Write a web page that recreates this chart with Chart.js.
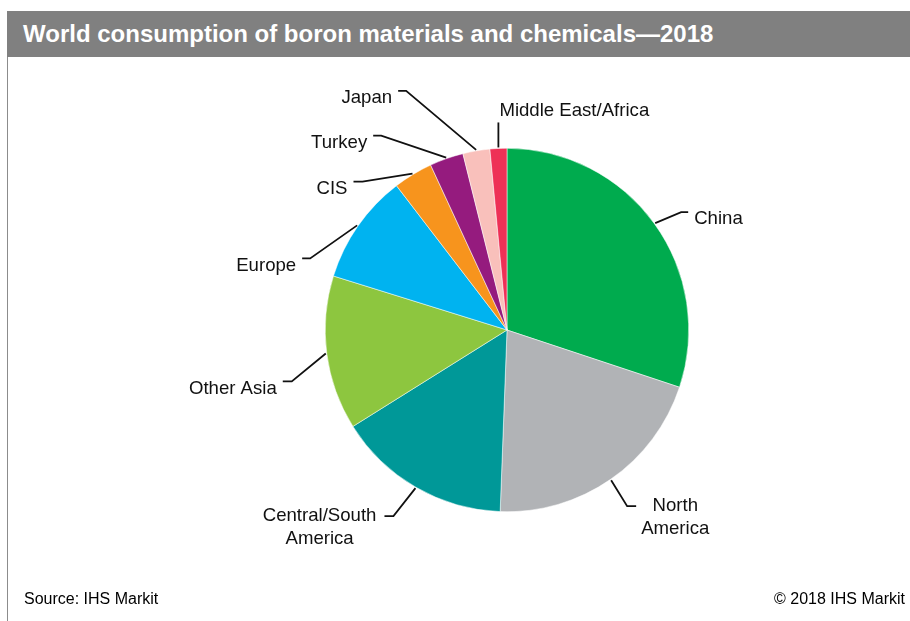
<!DOCTYPE html>
<html>
<head>
<meta charset="utf-8">
<script src="https://cdn.jsdelivr.net/npm/chart.js@4"></script>
<style>
  html, body { margin: 0; padding: 0; background: #fff; }
  #wrap { position: relative; width: 910px; height: 621px; overflow: hidden; font-family: "Liberation Sans", Arial, sans-serif; }
  #titleBar { position: absolute; left: 7px; top: 11px; width: 903px; height: 46px; background: #808080; }
  #titleBar span { position: absolute; left: 16px; top: 9px; color: #fff; font-weight: bold; font-size: 24px; white-space: nowrap; }
  #leftRule { position: absolute; left: 7px; top: 57px; width: 1px; height: 564px; background: #8c8c8c; }
  .foot { position: absolute; top: 590px; font-size: 16px; color: #000; white-space: nowrap; }
  #source { left: 24px; }
  #copy { right: 5px; }
  #pie { position: absolute; left: 0; top: 0; }
</style>
</head>
<body>
<div id="wrap">
  <div id="titleBar"><span>World consumption of boron materials and chemicals—2018</span></div>
  <div id="leftRule"></div>
  <canvas id="pie" width="910" height="621"></canvas>
  <div class="foot" id="source">Source: IHS Markit</div>
  <div class="foot" id="copy">© 2018 IHS Markit</div>
</div>
<script>
// share of world consumption, %
const regions = ['China', 'North America', 'Central/South America', 'Other Asia', 'Europe', 'CIS', 'Turkey', 'Japan', 'Middle East/Africa'];
const shares = [30.1, 20.5, 15.5, 13.7, 9.8, 3.5, 3.0, 2.4, 1.5];
const labelLines = [['China'], ['North', 'America'], ['Central/South', 'America'], ['Other Asia'], ['Europe'], ['CIS'], ['Turkey'], ['Japan'], ['Middle East/Africa']];

const sliceColors = ['#00ab4e', '#b1b3b6', '#009898', '#8dc63f', '#00b3f0', '#f7941d', '#951b7e', '#f9c0bb', '#ee3056'];

// leader line layout: offset to elbow from the slice edge, horizontal tail length
const leaders = [
    { dx: 26, dy: -11, len: 7 },
    { dx: 16, dy: 26, len: 9 },
    { dx: -22, dy: 28, len: 9 },
    { dx: -34, dy: 28, len: 9 },
    { dx: -47, dy: 33, len: 8 },
    { dx: -50, dy: 8, len: 9 },
    { dx: -65, dy: -22, len: 8 },
    { dx: -70, dy: -59, len: 8 },
    { dx: 0, dy: -25, len: 0, above: true }
];

const leaderLabels = {
    id: 'leaderLabels',
    afterDatasetsDraw(chart) {
        const ctx = chart.ctx;
        const arcs = chart.getDatasetMeta(0).data;
        ctx.save();
        ctx.strokeStyle = '#111';
        ctx.lineWidth = 1.8;
        ctx.fillStyle = '#111';
        ctx.font = '18.6px "Liberation Sans", Arial, sans-serif';
        ctx.textBaseline = 'middle';
        arcs.forEach((arc, i) => {
            const p = arc.getProps(['x', 'y', 'startAngle', 'endAngle', 'outerRadius'], true);
            const mid = (p.startAngle + p.endAngle) / 2;
            const sx = p.x + Math.cos(mid) * (p.outerRadius + 1);
            const sy = p.y + Math.sin(mid) * (p.outerRadius + 1);
            const L = leaders[i];
            const ex = sx + L.dx, ey = sy + L.dy;
            const dir = L.dx >= 0 ? 1 : -1;
            const hx = ex + dir * L.len;
            ctx.beginPath();
            ctx.moveTo(sx, sy);
            ctx.lineTo(ex, ey);
            ctx.lineTo(hx, ey);
            ctx.stroke();

            const lines = labelLines[i];
            if (L.above) {
                ctx.textAlign = 'left';
                ctx.fillText(lines[0], ex + 1, ey - 12);
                return;
            }
            if (lines.length === 1) {
                ctx.textAlign = dir > 0 ? 'left' : 'right';
                ctx.fillText(lines[0], hx + dir * 6, ey + 7);
            } else {
                const w = Math.max(...lines.map(t => ctx.measureText(t).width));
                const cx = dir > 0 ? hx + 5 + w / 2 : hx - 8 - w / 2;
                ctx.textAlign = 'center';
                lines.forEach((t, k) => ctx.fillText(t, cx, ey + k * 23));
            }
        });
        ctx.restore();
    }
};

new Chart(document.getElementById('pie').getContext('2d'), {
    type: 'pie',
    data: {
        labels: regions,
        datasets: [{
            data: shares,
            backgroundColor: sliceColors,
            borderColor: '#ffffff',
            borderWidth: 0.5
        }]
    },
    options: {
        responsive: false,
        animation: false,
        layout: { padding: { left: 325, right: 221, top: 148, bottom: 109 } },
        plugins: {
            legend: { display: false },
            tooltip: { enabled: false }
        }
    },
    plugins: [leaderLabels]
});
</script>
</body>
</html>
